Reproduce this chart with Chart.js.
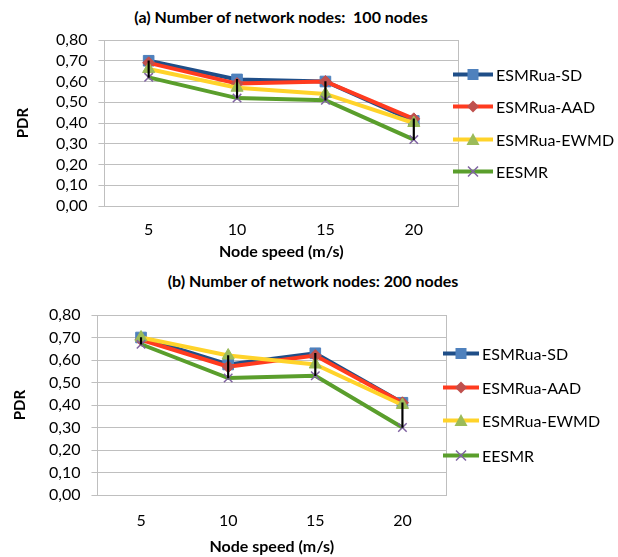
<!DOCTYPE html>
<html>
<head>
<meta charset="utf-8">
<script src="https://cdn.jsdelivr.net/npm/chart.js@4.4.1/dist/chart.umd.min.js"></script>
<style>
body { margin: 0; background: #fff; font-family: Lato, sans-serif; }
#page { position: relative; width: 618px; height: 557px; overflow: hidden; }
canvas { position: absolute; left: 0; }
.title { position: absolute; font-weight: bold; font-size: 16px; white-space: nowrap; transform: translate(-50%, -50%); color: #000; }
.legend-item { position: absolute; display: flex; align-items: center; font-size: 16px; white-space: nowrap; transform: translateY(-50%); color: #000; }
.legend-item svg { margin-right: 3px; }
</style>
</head>
<body>
<div id="page">
  <div class="title" style="left:281px; top:16px;">(a) Number of network nodes:&nbsp; 100 nodes</div>
  <canvas id="chartA" width="618" height="265" style="top:0px"></canvas>
  <div class="title" style="left:313px; top:280px;">(b) Number of network nodes: 200 nodes</div>
  <canvas id="chartB" width="618" height="295" style="top:262px"></canvas>
  <div id="legendA"></div>
  <div id="legendB"></div>
</div>
<script>
// node speed categories (m/s)
var speeds = ['5', '10', '15', '20'];
var seriesNames = ['ESMRua-SD', 'ESMRua-AAD', 'ESMRua-EWMD', 'EESMR'];

// (a) 100 nodes - PDR
var sd100 = [0.70, 0.61, 0.60, 0.41];
var aad100 = [0.69, 0.59, 0.60, 0.42];
var ewmd100 = [0.66, 0.57, 0.54, 0.40];
var eesmr100 = [0.62, 0.52, 0.51, 0.32];

// (b) 200 nodes - PDR
var sd200 = [0.70, 0.58, 0.63, 0.41];
var aad200 = [0.69, 0.57, 0.62, 0.41];
var ewmd200 = [0.70, 0.62, 0.58, 0.40];
var eesmr200 = [0.67, 0.52, 0.53, 0.30];

var lineColors = ['#1f4e88', '#ff3b1f', '#ffd32a', '#5a9e2c'];
var markerColors = ['#4f81bd', '#c0504d', '#9bbb59', '#8064a2'];
var markerStyles = ['rect', 'rectRot', 'triangle', 'crossRot'];
var markerSizes = [7.5, 6, 7, 6];

Chart.defaults.font.family = 'Lato, sans-serif';
Chart.defaults.font.size = 16;
Chart.defaults.color = '#000';

// right edge of the plot area, like the excel frame
var plotFrame = {
    id: 'plotFrame',
    beforeDatasetsDraw: function(chart) {
        var a = chart.chartArea;
        var ctx = chart.ctx;
        ctx.save();
        ctx.strokeStyle = '#bfbfbf';
        ctx.lineWidth = 1;
        ctx.beginPath();
        ctx.moveTo(Math.round(a.right) + 0.5, a.top);
        ctx.lineTo(Math.round(a.right) + 0.5, a.bottom);
        ctx.stroke();
        ctx.restore();
    }
};

function makeChart(id, series, pad, yTitlePad, xTickPad, xTitlePad) {
    var datasets = series.map(function(values, i) {
        return {
            label: seriesNames[i],
            data: values,
            borderColor: lineColors[i],
            borderWidth: 4,
            pointStyle: markerStyles[i],
            pointRadius: markerSizes[i],
            pointBackgroundColor: markerColors[i],
            pointBorderColor: markerColors[i],
            pointBorderWidth: i == 3 ? 1.5 : 1,
            tension: 0,
            order: 4 - i
        };
    });

    // high-low lines between the lowest and highest series at each speed
    var highLow = speeds.map(function(s, k) {
        var vals = series.map(function(d) { return d[k]; });
        return [Math.min.apply(null, vals), Math.max.apply(null, vals)];
    });
    datasets.push({
        type: 'bar',
        label: 'high-low',
        data: highLow,
        backgroundColor: '#000',
        barThickness: 1.5,
        grouped: false,
        order: 0
    });

    return new Chart(document.getElementById(id).getContext('2d'), {
        type: 'line',
        data: { labels: speeds, datasets: datasets },
        plugins: [plotFrame],
        options: {
            responsive: false,
            animation: false,
            layout: { padding: pad },
            plugins: {
                legend: { display: false },
                tooltip: { enabled: false }
            },
            scales: {
                x: {
                    offset: true,
                    grid: { display: false, drawTicks: false },
                    border: { color: '#bfbfbf' },
                    ticks: { padding: xTickPad },
                    title: {
                        display: true,
                        text: 'Node speed (m/s)',
                        font: { weight: 'bold', size: 16 },
                        padding: xTitlePad
                    }
                },
                y: {
                    min: 0,
                    max: 0.8,
                    grid: { color: '#bfbfbf', tickLength: 6 },
                    border: { color: '#bfbfbf' },
                    ticks: {
                        stepSize: 0.1,
                        autoSkip: false,
                        padding: 11,
                        callback: function(v) { return v.toFixed(2).replace('.', ','); }
                    },
                    title: {
                        display: true,
                        text: 'PDR',
                        font: { weight: 'bold', size: 15 },
                        padding: yTitlePad
                    }
                }
            }
        }
    });
}

var chartA = makeChart('chartA', [sd100, aad100, ewmd100, eesmr100],
    { left: 10, right: 160, top: 40, bottom: 2 }, { top: 4, bottom: 13 }, 14.4, { top: -11.9, bottom: 1.7 });
var chartB = makeChart('chartB', [sd200, aad200, ewmd200, eesmr200],
    { left: 7, right: 172, top: 53, bottom: 0 }, { top: 4, bottom: 9 }, 16.4, { top: -9.6, bottom: 0.4 });

function legendIcon(i, w) {
    var c = w / 2;
    var svg = '<svg width="' + w + '" height="14" viewBox="0 0 ' + w + ' 14">' +
        '<line x1="0" y1="7" x2="' + w + '" y2="7" stroke="' + lineColors[i] + '" stroke-width="4"/>';
    var m = markerColors[i];
    if (i == 0) svg += '<rect x="' + (c - 5.5) + '" y="1.5" width="11" height="11" fill="' + m + '"/>';
    if (i == 1) svg += '<polygon points="' + c + ',1 ' + (c + 6) + ',7 ' + c + ',13 ' + (c - 6) + ',7" fill="' + m + '"/>';
    if (i == 2) svg += '<polygon points="' + c + ',0.5 ' + (c + 6.5) + ',12.5 ' + (c - 6.5) + ',12.5" fill="' + m + '"/>';
    if (i == 3) svg += '<path d="M' + (c - 5) + ',2 L' + (c + 5) + ',12 M' + (c + 5) + ',2 L' + (c - 5) + ',12" stroke="' + m + '" stroke-width="1.5"/>';
    return svg + '</svg>';
}

function buildLegend(divId, left, rows, w) {
    var legendDiv = document.getElementById(divId);
    seriesNames.forEach(function(label, index) {
        var legendItem = document.createElement('div');
        legendItem.className = 'legend-item';
        legendItem.style.left = left + 'px';
        legendItem.style.top = rows[index] + 'px';
        legendItem.innerHTML = legendIcon(index, w) + label;
        legendDiv.appendChild(legendItem);
    });
}

buildLegend('legendA', 453, [74, 106, 139, 171], 40);
buildLegend('legendB', 443, [353, 387, 420, 455], 36);
</script>
</body>
</html>
